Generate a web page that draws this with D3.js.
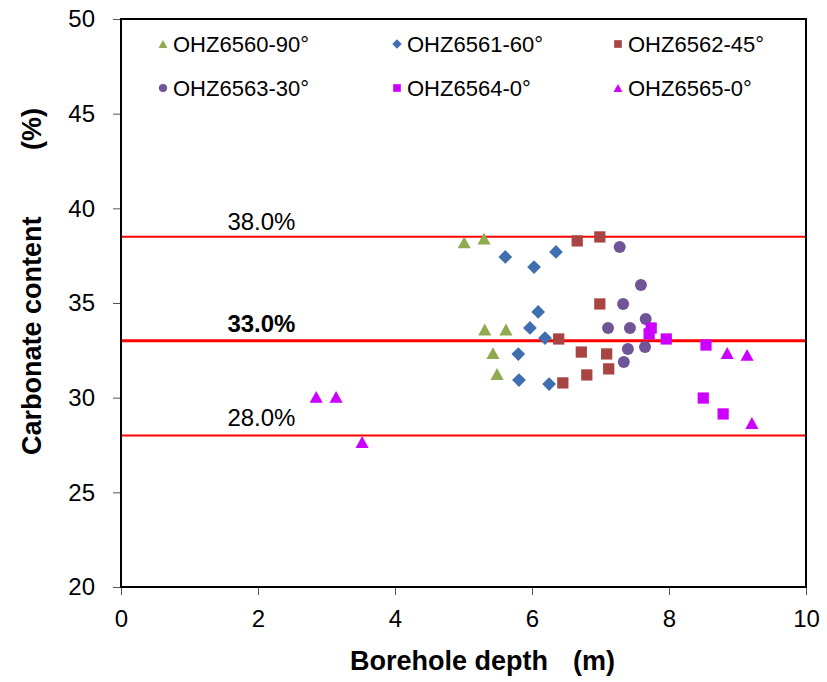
<!DOCTYPE html>
<html><head><meta charset="utf-8">
<script src="https://cdn.jsdelivr.net/npm/d3@7"></script>
<style>
html,body{margin:0;padding:0;background:#fff;}
svg{display:block;font-family:Arial,"Liberation Sans",sans-serif;}
</style></head>
<body><svg id="chart" width="827" height="682"></svg>
<script>
// ---- data ----
const seriesNames = ["OHZ6560-90°","OHZ6561-60°","OHZ6562-45°","OHZ6563-30°","OHZ6564-0°","OHZ6565-0°"];
const seriesColors = ["#8FAA4F","#3F6FAE","#A84442","#6F5597","#CC00FF","#CC00FF"];
const seriesShapes = ["triangle","diamond","square","circle","square","triangle"];

const ohz6560 = [[5.01,38.2],[5.30,38.4],[5.31,33.6],[5.62,33.6],[5.43,32.35],[5.49,31.25]];
const ohz6561 = [[5.61,37.43],[6.03,36.9],[6.35,37.7],[6.09,34.53],[5.97,33.68],[6.19,33.15],[5.80,32.3],[5.81,30.93],[6.25,30.72]];
const ohz6562 = [[6.66,38.28],[6.99,38.49],[6.99,34.95],[6.39,33.1],[6.72,32.41],[7.09,32.31],[7.12,31.52],[6.80,31.2],[6.45,30.78]];
const ohz6563 = [[7.28,37.96],[7.33,34.95],[7.11,33.68],[7.43,33.68],[7.40,32.57],[7.34,31.89],[7.59,35.95],[7.66,34.16],[7.65,32.68]];
const ohz6564 = [[7.74,33.68],[7.71,33.37],[7.96,33.1],[8.54,32.78],[8.50,29.98],[8.79,29.14]];
const ohz6565 = [[8.85,32.36],[9.14,32.26],[9.21,28.66],[2.85,30.04],[3.14,30.04],[3.52,27.66]];
const seriesData = [ohz6560, ohz6561, ohz6562, ohz6563, ohz6564, ohz6565];

const refLines = [38.5, 33, 28];
const refLabels = ["38.0%","33.0%","28.0%"];
const refBold = [false, true, false];

const xTicks = [0,2,4,6,8,10];
const yTicks = [20,25,30,35,40,45,50];
const xTitleMain = "Borehole depth", xTitleUnit = "(m)";
const yTitleMain = "Carbonate content", yTitleUnit = "(%)";

// ---- chart ----
const svg = d3.select("#chart");
const L = 121, R = 806, T = 19, B = 587;
const x = d3.scaleLinear().domain([0,10]).range([L,R]);
const y = d3.scaleLinear().domain([20,50]).range([B,T]);

// reference lines
const refG = svg.append("g");
const labelOffset = [7, 9, 10];
refLines.forEach((v,i)=>{
  refG.append("line").attr("x1",x(0)).attr("x2",x(10)).attr("y1",y(v)).attr("y2",y(v))
    .attr("stroke","#FF0000").attr("stroke-width", refBold[i]?3:2);
  refG.append("text").attr("x",x(2.05)).attr("y",y(v)-labelOffset[i])
    .attr("text-anchor","middle").attr("font-size",24)
    .attr("font-weight",refBold[i]?"bold":"normal").attr("fill","#000").text(refLabels[i]);
});

// axes
const xAxis = d3.axisBottom(x).tickValues(xTicks).tickSize(8).tickPadding(15).tickFormat(d3.format("d"));
const yAxis = d3.axisLeft(y).tickValues(yTicks).tickSize(8).tickPadding(18).tickFormat(d3.format("d"));
const gx = svg.append("g").attr("transform",`translate(0,${B})`).call(xAxis);
const gy = svg.append("g").attr("transform",`translate(${L},0)`).call(yAxis);
[gx,gy].forEach(g=>{
  g.select(".domain").remove();
  g.selectAll(".tick line").attr("stroke","#555").attr("stroke-width",1);
  g.selectAll(".tick text").attr("font-size",24).attr("fill","#000").attr("font-family","Arial,'Liberation Sans',sans-serif");
});
gy.selectAll(".tick text").attr("dy","0.33em");

// frame
svg.append("rect").attr("x",L).attr("y",T).attr("width",R-L).attr("height",B-T)
  .attr("fill","none").attr("stroke","#000").attr("stroke-width",2);

// marker paths
function shapePath(shape, s){
  if(shape==="triangle"){ const w=s*1.05, h=s*0.95; return `M0,${-h/2}L${w/2},${h/2}L${-w/2},${h/2}Z`; }
  if(shape==="diamond"){ const r=s*0.55; return `M0,${-r}L${r},0L0,${r}L${-r},0Z`; }
  if(shape==="square"){ const r=s*0.45; return `M${-r},${-r}H${r}V${r}H${-r}Z`; }
  const r=s*0.48; return `M${r},0A${r},${r} 0 1,1 ${-r},0A${r},${r} 0 1,1 ${r},0Z`;
}

// points
seriesData.forEach((arr,i)=>{
  svg.append("g").selectAll("path").data(arr).join("path")
    .attr("transform",d=>`translate(${x(d[0])},${y(d[1])})`)
    .attr("d",shapePath(seriesShapes[i],12.5))
    .attr("fill",seriesColors[i]);
});

// legend
const legCols = [163, 397, 618];
const legRows = [44, 88];
const lg = svg.append("g");
seriesNames.forEach((name,i)=>{
  const cx = legCols[i%3], cy = legRows[Math.floor(i/3)];
  lg.append("path").attr("transform",`translate(${cx},${cy})`)
    .attr("d",shapePath(seriesShapes[i],8.5)).attr("fill",seriesColors[i]);
  lg.append("text").attr("x",cx+10).attr("y",cy+8).attr("font-size",22).attr("fill","#000").text(name);
});

// axis titles
const xt = svg.append("text").attr("y",670).attr("font-size",27).attr("font-weight","bold").attr("fill","#000");
xt.append("tspan").attr("x",350).text(xTitleMain);
xt.append("tspan").attr("x",573).text(xTitleUnit);
const yt = svg.append("text").attr("transform","translate(41,0) rotate(-90)")
  .attr("font-size",27).attr("font-weight","bold").attr("fill","#000");
yt.append("tspan").attr("x",-455).text(yTitleMain);
yt.append("tspan").attr("x",-150).text(yTitleUnit);
</script></body></html>
